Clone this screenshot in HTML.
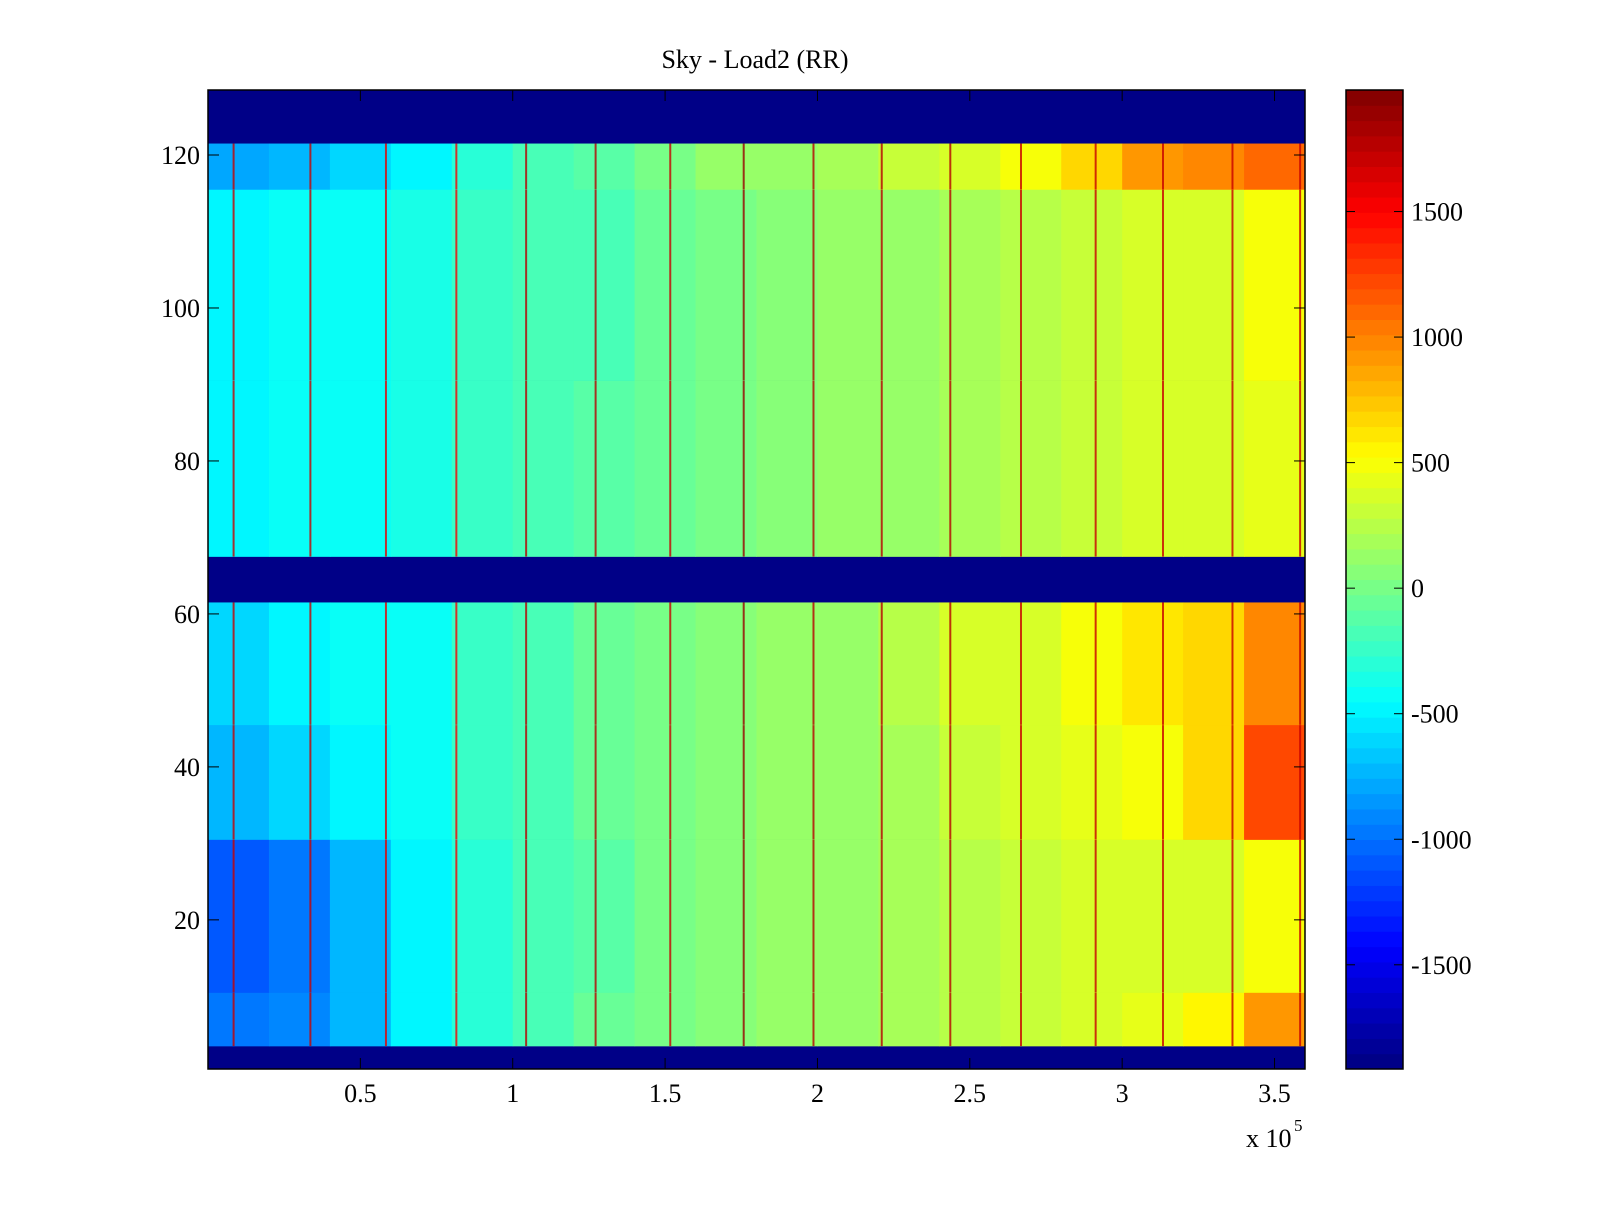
<!DOCTYPE html>
<html><head><meta charset="utf-8"><style>
body{margin:0;background:#fff;width:1600px;height:1200px;overflow:hidden}
svg text{font-family:"Liberation Serif",serif;font-size:26px;fill:#000}
</style></head><body>
<svg id="chart" width="1600" height="1200" xmlns="http://www.w3.org/2000/svg">
<rect width="1600" height="1200" fill="#fff"/>
<text x="755" y="68" text-anchor="middle">Sky - Load2 (RR)</text>
<g id="plot"></g><g id="cbar"></g><g id="axes"></g>
<text x="1246" y="1147">x 10</text>
<text x="1294" y="1131" style="font-size:17px">5</text>
</svg>
<script>
const xBinEdges=[0,0.2,0.4,0.6,0.8,1.0,1.2,1.4,1.6,1.8,2.0,2.2,2.4,2.6,2.8,3.0,3.2,3.4,3.6];
const rowBands=[[3.5,10.5],[10.5,30.5],[30.5,45.5],[45.5,61.5],[67.5,90.5],[90.5,115.5],[115.5,121.5]];
const bandValues=[
[-1000,-900,-700,-500,-300,-150,-50,0,50,100,150,200,250,300,350,450,550,900],
[-1100,-1000,-700,-500,-300,-200,-100,0,50,100,150,200,250,300,350,400,400,500],
[-700,-600,-500,-400,-250,-150,-50,0,50,100,150,200,300,350,450,500,650,1200],
[-600,-500,-450,-400,-250,-150,-50,0,50,100,150,250,350,400,500,600,700,1000],
[-500,-400,-400,-350,-250,-200,-100,-50,0,50,100,150,200,250,300,350,400,450],
[-500,-450,-400,-350,-250,-200,-150,-50,0,50,100,150,200,250,300,350,400,500],
[-800,-700,-600,-500,-300,-200,-100,0,100,150,200,300,400,500,700,900,1000,1100]];
const stripeX=[0.084,0.336,0.584,0.815,1.044,1.272,1.517,1.758,1.987,2.211,2.436,2.668,2.913,3.134,3.362,3.584];
const stripeValue=[1700,1700,1600,1500,1800,1800,1700,1900,1800,1800,1800,1700,1700,1700,1700,1700];
const xTicks=[0.5,1,1.5,2,2.5,3,3.5];
const yTicks=[20,40,60,80,100,120];
const cTicks=[-1500,-1000,-500,0,500,1000,1500];
const X0=208,X1=1305,Y0=90,Y1=1069,CMIN=-1915,CMAX=1984;
const xs=v=>X0+v/3.6*(X1-X0);
const ys=v=>Y1-(v-0.5)/128*(Y1-Y0);
function jet(t){t=Math.max(0,Math.min(1,t));
 const c=x=>Math.round(255*Math.max(0,Math.min(1,x)));
 return `rgb(${c(1.5-Math.abs(4*t-3))},${c(1.5-Math.abs(4*t-2))},${c(1.5-Math.abs(4*t-1))})`;}
const col=v=>jet((Math.floor((v-CMIN)/(CMAX-CMIN)*64)+0.5)/64);
const NS="http://www.w3.org/2000/svg";
function mk(tag,attrs,parent){const e=document.createElementNS(NS,tag);for(const k in attrs)e.setAttribute(k,attrs[k]);parent.appendChild(e);return e;}
const plot=document.getElementById('plot');
const bg=mk('rect',{x:X0,y:Y0,width:X1-X0,height:Y1-Y0,fill:col(-1915)},plot);


rowBands.forEach((b,bi)=>{
 for(let i=0;i<xBinEdges.length-1;i++){
  const r=mk('rect',{x:xs(xBinEdges[i]),y:ys(b[1]),width:xs(xBinEdges[i+1])-xs(xBinEdges[i])+0.5,height:ys(b[0])-ys(b[1])+0.3,fill:col(bandValues[bi][i])},plot);
  
  
 }
 stripeX.forEach((sx,si)=>{
  const s=mk('rect',{x:xs(sx)-1,y:ys(b[1]),width:2,height:ys(b[0])-ys(b[1]),fill:col(stripeValue[si]),opacity:0.8},plot);
  
  
 });
});
const cb=document.getElementById('cbar');
const CX0=1346,CX1=1403;
for(let i=0;i<64;i++){
 const h=(Y1-Y0)/64;
 const r=mk('rect',{x:CX0,y:Y1-(i+1)*h,width:CX1-CX0,height:h+0.5,fill:jet((i+0.5)/64)},cb);
 
 
}
const cs=v=>Y1-(v-CMIN)/(CMAX-CMIN)*(Y1-Y0);
const ax=document.getElementById('axes');
mk('rect',{x:X0,y:Y0,width:X1-X0,height:Y1-Y0,fill:'none',stroke:'#000','stroke-width':1.5},ax);
mk('rect',{x:CX0,y:Y0,width:CX1-CX0,height:Y1-Y0,fill:'none',stroke:'#000','stroke-width':1.5},ax);
xTicks.forEach(v=>{const x=xs(v);
 mk('line',{x1:x,x2:x,y1:Y1,y2:Y1-11,stroke:'#000'},ax);mk('line',{x1:x,x2:x,y1:Y0,y2:Y0+11,stroke:'#000'},ax);
 const t=mk('text',{x:x,y:Y1+33,'text-anchor':'middle'},ax);t.textContent=v;
 
 });
yTicks.forEach(v=>{const y=ys(v);
 mk('line',{x1:X0,x2:X0+11,y1:y,y2:y,stroke:'#000'},ax);mk('line',{x1:X1,x2:X1-11,y1:y,y2:y,stroke:'#000'},ax);
 const t=mk('text',{x:X0-8,y:y+9,'text-anchor':'end'},ax);t.textContent=v;
 
 });
cTicks.forEach(v=>{const y=cs(v);
 mk('line',{x1:CX0,x2:CX0+9,y1:y,y2:y,stroke:'#000'},ax);mk('line',{x1:CX1,x2:CX1-9,y1:y,y2:y,stroke:'#000'},ax);
 const t=mk('text',{x:CX1+8,y:y+9},ax);t.textContent=v;
 
 });
</script>
</body></html>
